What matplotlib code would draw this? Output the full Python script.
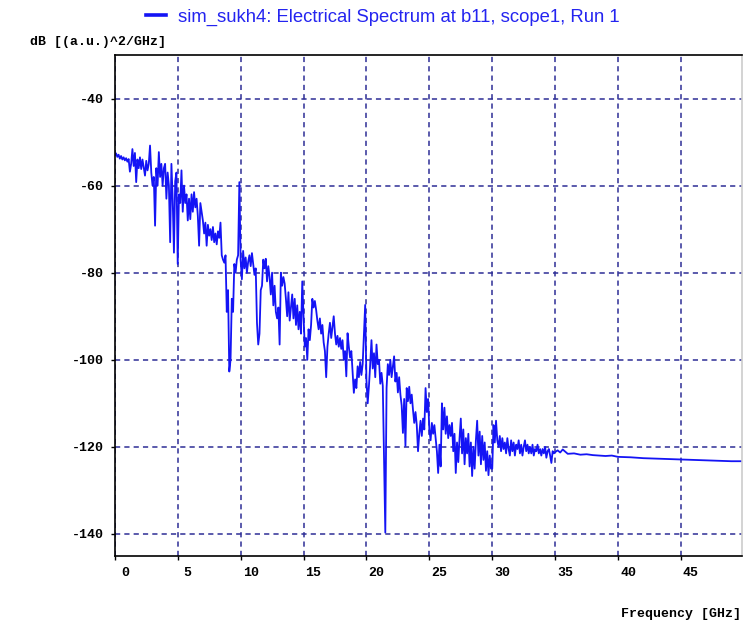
import numpy as np
import matplotlib
matplotlib.use("Agg")
import matplotlib.pyplot as plt
from matplotlib.transforms import ScaledTranslation

plt.rcParams['axes.unicode_minus'] = False

# spectrum values, 0.1 GHz steps from 0 to 35 GHz
freq_noisy = np.round(np.arange(0, 35.05, 0.1), 1)
db_noisy = [
    -53.0, -52.6, -53.4, -52.9, -53.8, -53.2, -54.0, -53.5, -54.2, -53.7,
    -54.5, -53.9, -56.8, -55.0, -51.6, -55.5, -52.5, -59.2, -54.0, -56.0,
    -53.5, -56.2, -54.0, -55.8, -57.7, -54.3, -56.5, -55.0, -50.8, -57.0,
    -60.0, -58.0, -69.2, -56.0, -60.0, -52.3, -58.0, -55.0, -60.0, -56.0,
    -55.0, -63.0, -57.0, -60.0, -73.0, -55.0, -63.0, -75.4, -59.0, -57.0,
    -78.0, -62.0, -64.0, -56.5, -66.0, -60.0, -64.0, -62.0, -68.0, -63.0,
    -67.7, -62.0, -66.0, -61.5, -65.0, -63.0, -67.0, -73.8, -64.0, -66.0,
    -68.0, -71.0, -68.5, -73.8, -69.0, -71.5, -70.0, -72.5, -69.5, -73.0,
    -71.0, -73.5, -70.5, -72.0, -68.5, -76.0, -77.0, -77.7, -76.0, -89.0,
    -84.0, -102.7, -100.0, -86.0, -89.0, -78.0, -80.0, -77.0, -76.0, -59.2,
    -77.0, -81.5, -75.0, -79.0, -76.5, -80.0, -77.5, -76.0, -78.5, -75.5,
    -78.0, -80.5, -79.0, -91.5, -96.5, -94.0, -84.0, -83.0, -77.0, -79.0,
    -76.8, -82.0, -78.5, -81.0, -85.0, -80.0, -87.5, -83.0, -89.0, -90.5,
    -88.0, -96.5, -80.0, -83.0, -81.0, -82.5, -86.0, -90.0, -84.5, -91.0,
    -88.0, -85.0, -90.5, -86.0, -92.0, -87.5, -93.0, -89.0, -94.0, -82.0,
    -90.0, -97.0, -95.0, -100.0, -93.0, -95.5, -92.0, -86.0, -88.0, -86.5,
    -88.5, -91.0, -93.0, -90.5, -94.0, -92.0, -96.0, -98.0, -104.0, -97.0,
    -94.0, -91.5, -95.0, -92.5, -90.0, -94.0, -96.5, -94.5, -97.0, -95.0,
    -97.5, -95.5, -100.0, -98.0, -103.8, -93.9, -97.0, -99.5, -98.0, -103.0,
    -107.6, -104.5, -106.5, -101.5, -104.0, -100.5, -103.5, -101.0, -94.0, -87.4,
    -104.6, -110.0, -106.0, -101.0, -95.5, -102.0, -98.5, -104.0, -96.5, -101.0,
    -100.0, -105.5, -103.0, -106.0, -123.0, -139.7, -106.5, -101.0, -103.5, -100.0,
    -104.0, -101.5, -99.2, -105.0, -103.0, -107.5, -104.0, -108.0, -110.5, -116.8,
    -109.0, -119.8, -106.5, -109.5, -106.2, -110.0, -108.0, -111.5, -114.5, -112.0,
    -115.0, -121.0, -117.0, -114.0, -117.5, -113.5, -116.0, -106.5, -112.0, -109.0,
    -116.0, -118.5, -114.5, -117.0, -115.0, -118.0, -121.0, -126.0, -119.5, -124.5,
    -110.0, -116.0, -111.0, -117.0, -113.0, -118.0, -115.0, -117.5, -114.5, -121.0,
    -117.0, -126.0, -119.0, -123.5, -118.0, -113.5, -121.5, -116.0, -124.0, -118.0,
    -121.5, -117.0, -124.5, -119.0, -126.7, -120.0, -125.0, -118.5, -114.0, -122.0,
    -116.5, -124.0, -117.5, -123.0, -119.0, -125.5, -121.0, -126.5, -122.0, -125.0,
    -125.0, -115.0, -119.0, -114.0, -118.5, -120.0, -117.5, -121.0, -118.0, -120.5,
    -119.0, -121.5, -118.0, -120.5, -122.0, -118.5, -121.0, -119.0, -122.0, -119.5,
    -120.5, -118.5, -121.5, -119.5, -122.0, -120.0, -118.5, -121.0, -119.5, -121.5,
    -120.0, -121.5, -119.5, -122.0, -120.5, -121.0, -119.5, -121.5, -120.5, -122.0,
    -120.5, -121.5, -120.0, -122.5, -121.0, -120.5, -122.0, -123.7, -121.0, -121.5,
    -121.2,
]

# smooth tail above 35 GHz
freq_tail = [35.2, 35.4, 35.6, 35.8, 36.0, 36.5, 37.0, 37.5, 38.0, 38.5, 39.0,
             39.5, 40.0, 41.0, 42.0, 43.0, 44.0, 45.0, 46.0, 47.0, 48.0, 49.0, 49.8]
db_tail = [-120.8, -121.3, -120.6, -121.1, -121.6, -121.5, -121.8, -121.7, -121.9,
           -122.0, -122.1, -122.0, -122.3, -122.4, -122.6, -122.7, -122.8, -122.9,
           -123.0, -123.1, -123.2, -123.3, -123.3]

freq = np.concatenate([freq_noisy, freq_tail])
db = np.concatenate([db_noisy, db_tail])

x_ticks = [0, 5, 10, 15, 20, 25, 30, 35, 40, 45]
y_ticks = [-40, -60, -80, -100, -120, -140]

title = "sim_sukh4: Electrical Spectrum at b11, scope1, Run 1"

fig = plt.figure(figsize=(7.43, 6.26), dpi=100)
ax = fig.add_axes([114.8 / 743, 1 - 555.7 / 626, (742 - 114.8) / 743, (555.7 - 55) / 626])

line, = ax.plot(freq, db, color='#1414f5', lw=1.3)

ax.set_xlim(0, 49.85)
ax.set_ylim(-145, -30)
ax.set_xticks(x_ticks)
ax.set_yticks(y_ticks)

mono = dict(family='Liberation Mono', weight='bold', size=9.5)
ax.set_xticklabels([str(t) for t in x_ticks], fontdict=mono)
ax.set_yticklabels([str(t) for t in y_ticks], fontdict=mono)
ax.tick_params(direction='out', length=3, width=1, pad=5, colors='black')

# x labels sit to the right of their ticks in the reference
for lab in ax.get_xticklabels():
    lab.set_transform(lab.get_transform() + ScaledTranslation(0.10, 0, fig.dpi_scale_trans))

ax.grid(True, color='#2e2e96', lw=1.1, linestyle=(0, (3.4, 2.7)))
for s in ax.spines.values():
    s.set_linewidth(1.2)
ax.spines['right'].set_color('#cccccc')

fig.text(30 / 743, 1 - 41.7 / 626, "dB [(a.u.)^2/GHz]", va='center', ha='left', **mono)
fig.text(741 / 743, 1 - 614 / 626, "Frequency [GHz]", va='center', ha='right', **mono)

leg = fig.legend([line], [title], loc='center', bbox_to_anchor=(383 / 743, 1 - 17 / 626),
                 frameon=False, prop={'family': 'Liberation Sans', 'size': 13.3},
                 labelcolor='#2424f0', handlelength=1.1, handletextpad=0.65)
leg.legend_handles[0].set_linewidth(2.6)

fig.savefig("out.png", dpi=100)
